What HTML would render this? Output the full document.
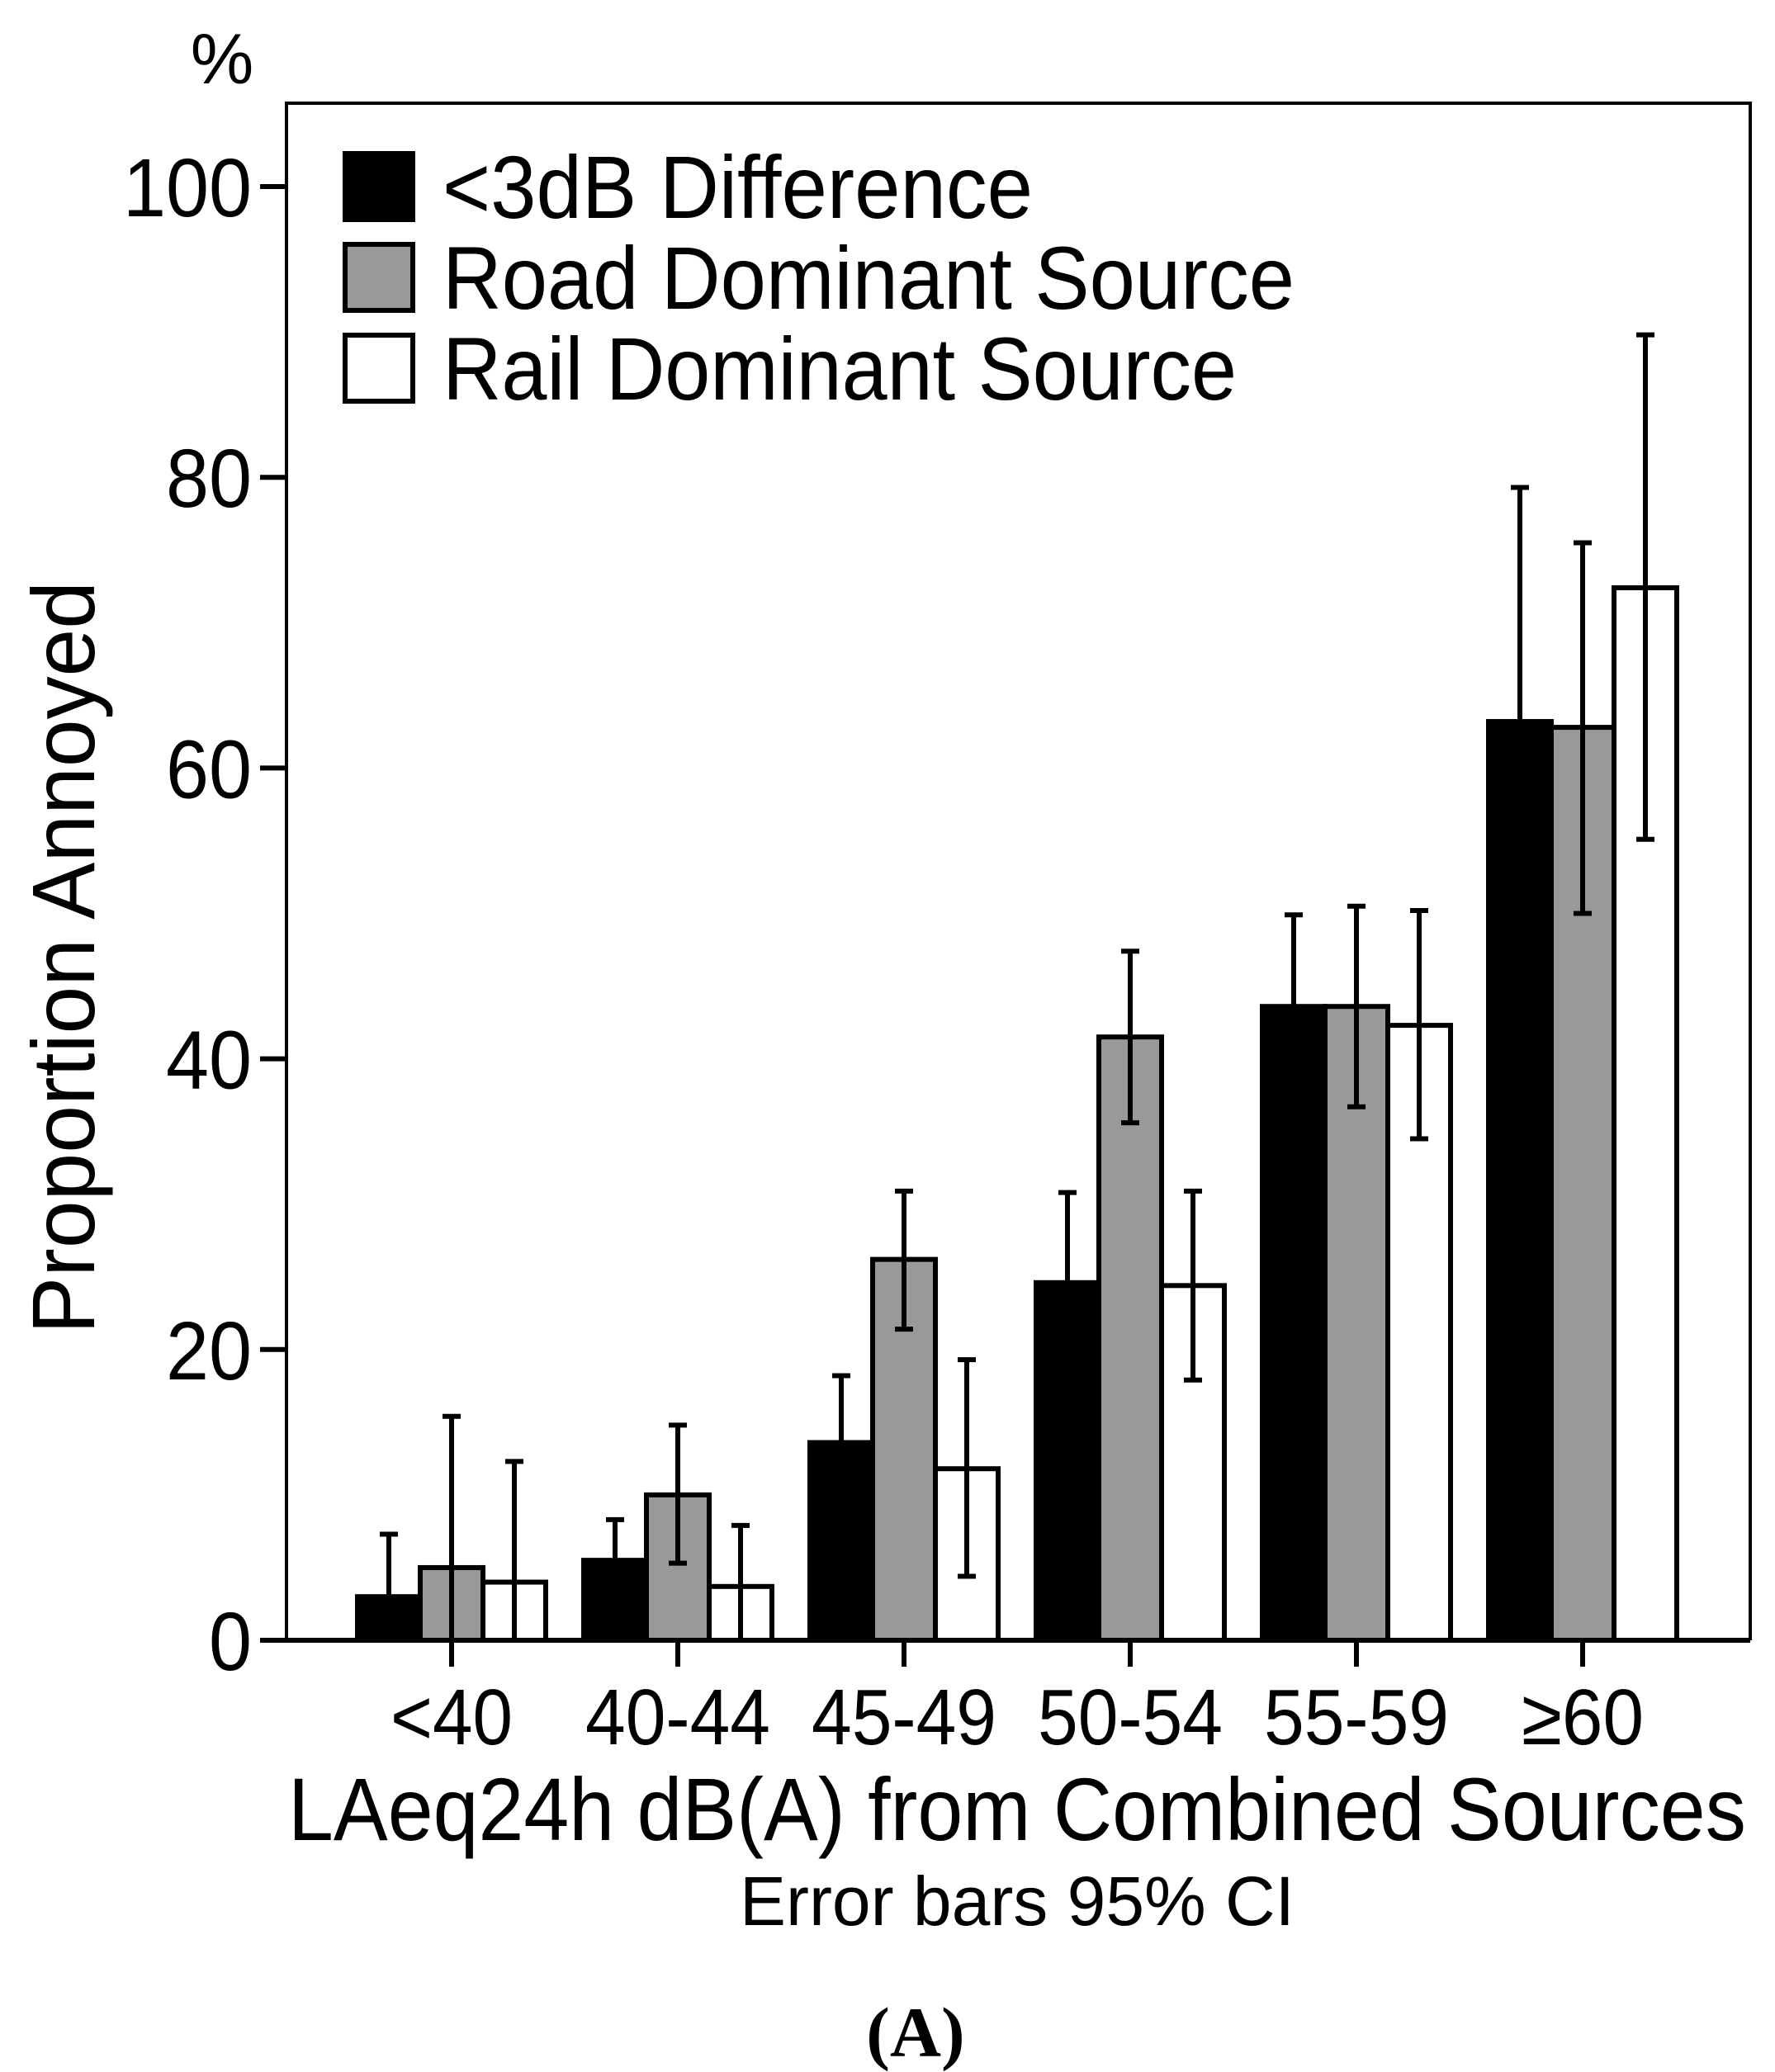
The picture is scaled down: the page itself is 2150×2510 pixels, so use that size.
<!DOCTYPE html>
<html><head><meta charset="utf-8"><style>
html,body{margin:0;padding:0;background:#fff;}
svg{display:block;font-family:"Liberation Sans",sans-serif;}
</style></head><body>
<svg id="chart" width="2150" height="2510" viewBox="0 0 2150 2510" xmlns="http://www.w3.org/2000/svg">
<g id="plot"></g>
</svg>
<script>
const categories = ["<40","40-44","45-49","50-54","55-59","\u226560"];
const seriesNames = ["<3dB Difference","Road Dominant Source","Rail Dominant Source"];
const blackVals = [3.0,5.5,13.6,24.6,43.6,63.2];
const blackHigh = [7.3,8.3,18.2,30.8,49.9,79.3];
const blackLow  = [0,2.7,9,18.4,37.3,47.1];
const grayVals = [5.0,10.0,26.2,41.5,43.6,62.8];
const grayHigh = [15.4,14.8,30.9,47.4,50.5,75.5];
const grayLow  = [0,5.3,21.4,35.6,36.7,50.0];
const whiteVals = [4.0,3.7,11.8,24.4,42.3,72.4];
const whiteHigh = [12.3,7.9,19.3,30.9,50.2,89.8];
const whiteLow  = [0,0,4.4,17.9,34.5,55.1];
const yTicks = [0,20,40,60,80,100];

const NS="http://www.w3.org/2000/svg";
const g=document.getElementById('plot');
const X0=347, X1=2120, Ytop=125, Ybase=1987, pxPerUnit=17.61;
const firstTick=547, step=274, barW=76;
const y=v=>Ybase-v*pxPerUnit;
const xc=i=>firstTick+i*step;
function mk(tag,attrs,parent){const e=document.createElementNS(NS,tag);for(const k in attrs)e.setAttribute(k,attrs[k]);(parent||g).appendChild(e);return e;}

let fr=mk('path',{d:`M${X0} ${Ybase} L${X0} ${Ytop} L${X1} ${Ytop} L${X1} ${Ybase}`,fill:'none',stroke:'#000','stroke-width':4});



const fills=['#000','#999','#fff'];
const vals=[blackVals,grayVals,whiteVals], his=[blackHigh,grayHigh,whiteHigh], los=[blackLow,grayLow,whiteLow];
for(let s=0;s<3;s++){
  for(let i=0;i<categories.length;i++){
    const cx=xc(i)+(s-1)*barW;
    const r=mk('rect',{x:cx-barW/2,y:y(vals[s][i]),width:barW,height:vals[s][i]*pxPerUnit,fill:fills[s],stroke:'#000','stroke-width':6});
    
    
    const eg=mk('g',{stroke:'#000','stroke-width':6});
    
    
    mk('line',{x1:cx,x2:cx,y1:y(his[s][i]),y2:y(los[s][i])},eg);
    mk('line',{x1:cx-11,x2:cx+11,y1:y(his[s][i]),y2:y(his[s][i])},eg);
    mk('line',{x1:cx-11,x2:cx+11,y1:y(los[s][i]),y2:y(los[s][i])},eg);
  }
}
let ax=mk('line',{x1:X0-32,x2:X1,y1:Ybase,y2:Ybase,stroke:'#000','stroke-width':6});


yTicks.forEach(t=>{
  mk('line',{x1:X0-32,x2:X0,y1:y(t),y2:y(t),stroke:'#000','stroke-width':6});
  const tx=mk('text',{x:X0-42,y:y(t)+36,'text-anchor':'end','font-size':100,textLength:String(t).length*52,lengthAdjust:'spacingAndGlyphs'});
  tx.textContent=t;
  
  
});
categories.forEach((c,i)=>{
  mk('line',{x1:xc(i),x2:xc(i),y1:Ybase,y2:Ybase+32,stroke:'#000','stroke-width':6});
  const tx=mk('text',{x:xc(i),y:2113,'text-anchor':'middle','font-size':96,textLength:(c.length===3?148:224),lengthAdjust:'spacingAndGlyphs'});
  tx.textContent=c;
  
  
});
const legY=[186,296,406], legText=[264,374,484], legLen=[715,1032,962];
for(let s=0;s<3;s++){
  const r=mk('rect',{x:418,y:legY[s],width:82,height:80,fill:fills[s],stroke:'#000','stroke-width':6});
  
  
  const tx=mk('text',{x:536,y:legText[s],'font-size':108,textLength:legLen[s],lengthAdjust:'spacingAndGlyphs'});
  tx.textContent=seriesNames[s];
  
  
}
let t;
t=mk('text',{x:1232,y:2229,'text-anchor':'middle','font-size':108,textLength:1766,lengthAdjust:'spacingAndGlyphs'});t.textContent='LAeq24h dB(A) from Combined Sources';


t=mk('text',{x:1232,y:2332,'text-anchor':'middle','font-size':84,textLength:672,lengthAdjust:'spacingAndGlyphs'});t.textContent='Error bars 95% CI';


t=mk('text',{x:1109,y:2491,'text-anchor':'middle','font-size':86,'font-weight':'bold','font-family':'Liberation Serif, serif'});t.textContent='(A)';


t=mk('text',{x:269,y:101,'text-anchor':'middle','font-size':86});t.textContent='%';


t=mk('text',{x:0,y:0,'text-anchor':'middle','font-size':108,transform:'translate(114 1160) rotate(-90)',textLength:912,lengthAdjust:'spacingAndGlyphs'});t.textContent='Proportion Annoyed';


</script>
</body></html>
